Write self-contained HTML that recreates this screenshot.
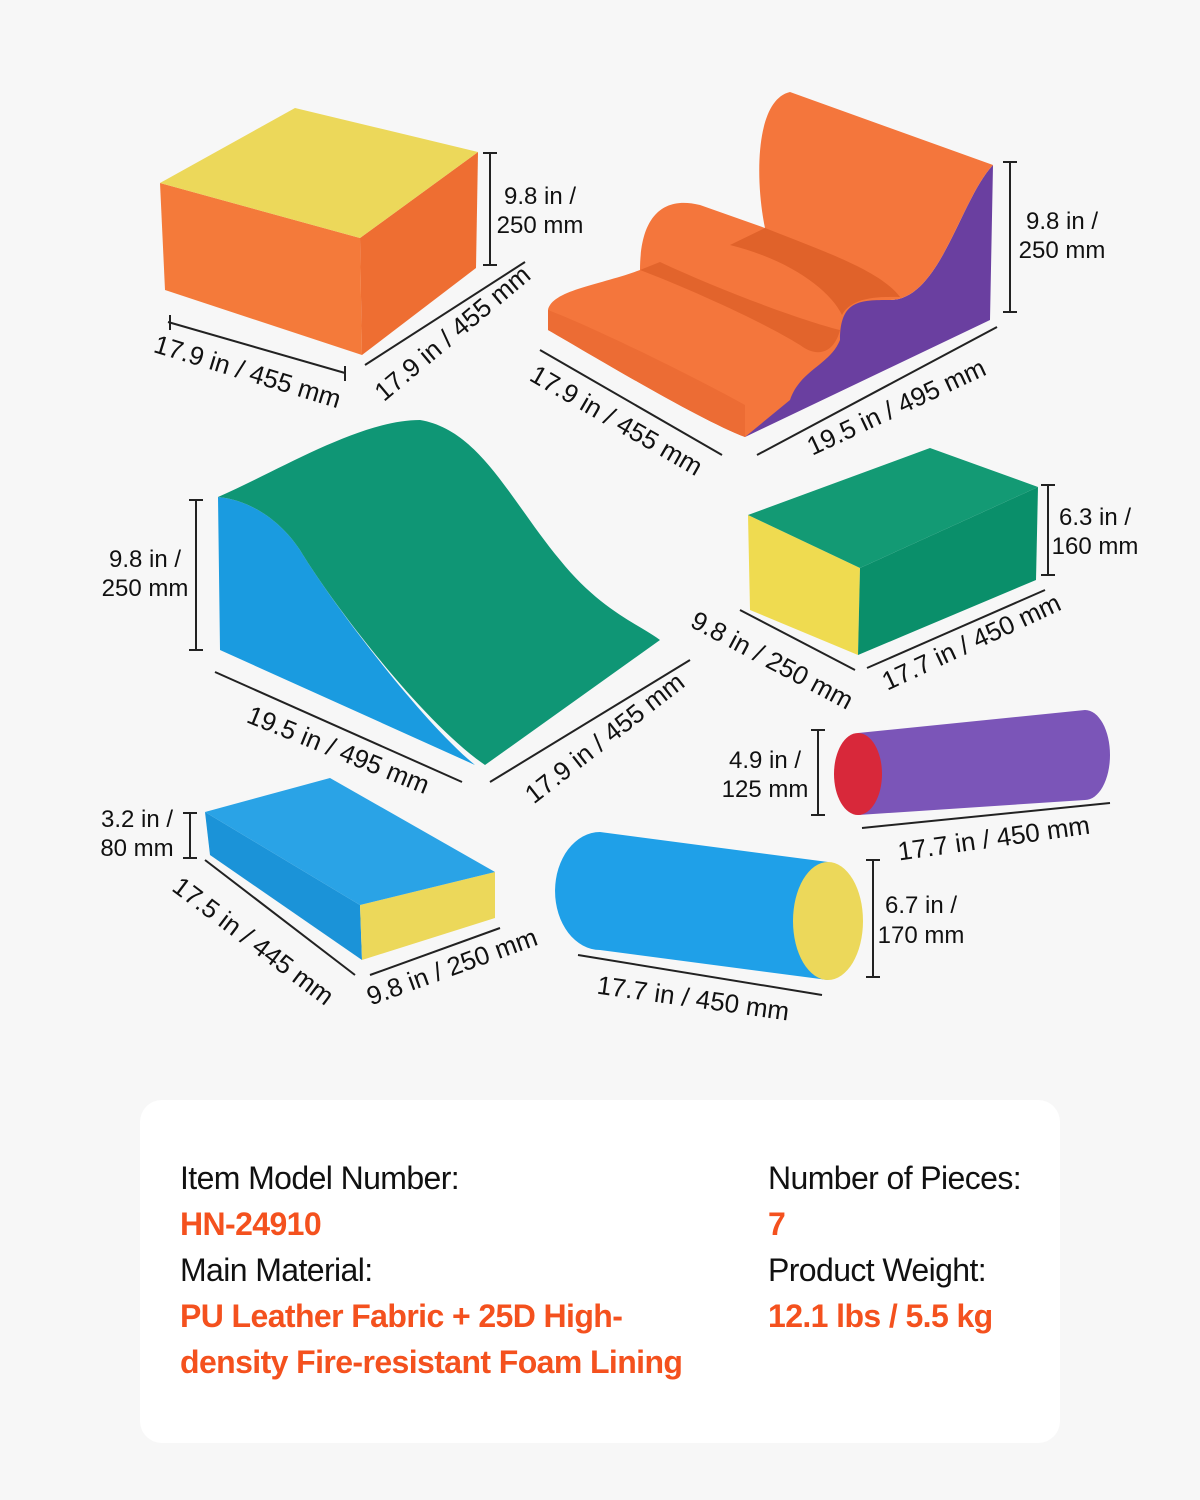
<!DOCTYPE html>
<html><head><meta charset="utf-8"><style>
html,body{margin:0;padding:0}
body{width:1200px;height:1500px;background:#f7f7f7;position:relative;overflow:hidden;font-family:"Liberation Sans",sans-serif}
svg{position:absolute;left:0;top:0}
.card{position:absolute;left:140px;top:1100px;width:920px;height:343px;background:#fff;border-radius:22px}
.t{position:absolute;font-size:32px;line-height:46px;color:#111;letter-spacing:-0.6px}
.o{color:#f4511e;font-weight:bold}
</style></head><body>
<svg width="1200" height="1500" viewBox="0 0 1200 1500" font-family="Liberation Sans, sans-serif" font-size="26" fill="#111">
<!-- cube -->
<polygon points="160,183 360,238 362,355 165,290" fill="#f47a3a"/>
<polygon points="360,238 478,152 476,268 362,355" fill="#ee6e32"/>
<polygon points="160,183 295,108 478,152 360,238" fill="#ecd85a"/>
<!-- wave block -->
<path d="M745,437 L990,320 L993,165 C960,200 940,300 890,300 C860,300 850,290 840,305 L745,360 Z" fill="#6a3fa0"/>
<path d="M548,310 C552,290 600,285 640,270 C640,220 660,195 700,205 L765,228 C755,180 755,100 790,92 L993,165 C960,200 940,300 890,300 C860,300 840,300 840,340 C830,365 800,370 790,400 L745,437 C700,420 600,360 548,330 Z" fill="#f4763c"/>
<path d="M640,270 C680,285 760,320 800,345 C820,360 835,350 840,330 C800,320 720,290 660,262 Z" fill="#e2642c"/>
<path d="M765,228 C820,250 880,270 900,297 C870,296 850,300 842,315 C830,290 790,260 730,245 Z" fill="#e0622a"/>
<path d="M548,310 C600,330 700,380 745,405 L745,437 C700,420 600,360 548,330 Z" fill="#ec6c34"/>
<!-- green wedge -->
<path d="M218,497 L220,650 L475,765 C420,720 330,600 300,550 C280,520 250,500 218,497 Z" fill="#1a9be0"/>
<path d="M218,497 C280,470 360,420 420,420 C480,430 510,500 560,560 C600,610 640,625 660,640 L485,765 C420,720 330,600 300,550 C280,520 250,500 218,497 Z" fill="#0f9675"/>
<!-- green block -->
<polygon points="748,515 860,568 858,655 750,610" fill="#efdb50"/>
<polygon points="860,568 1038,487 1036,580 858,655" fill="#0a8f6a"/>
<polygon points="748,515 930,448 1038,487 860,568" fill="#139a74"/>
<!-- purple cylinder -->
<path d="M858,733 L1085,710 A25,45 0 0 1 1085,800 L858,815 Z" fill="#7b55b8"/>
<ellipse cx="858" cy="774" rx="24" ry="41" fill="#d8283a"/>
<!-- blue block -->
<polygon points="205,812 360,905 362,960 210,855" fill="#1b93d8"/>
<polygon points="360,905 495,872 495,918 362,960" fill="#ecd85a"/>
<polygon points="205,812 330,778 495,872 360,905" fill="#2aa3e6"/>
<!-- blue cylinder -->
<path d="M600,832 L828,862 L828,980 L600,950 A45,59 0 0 1 600,832 Z" fill="#1fa0e8"/>
<ellipse cx="828" cy="921" rx="35" ry="59" fill="#ecd85a"/>
<!-- dimension lines -->
<g stroke="#222" stroke-width="2" fill="none">
<path d="M490,153 V265 M483,153 H497 M483,265 H497"/>
<path d="M1010,162 V312 M1003,162 H1017 M1003,312 H1017"/>
<path d="M196,500 V650 M189,500 H203 M189,650 H203"/>
<path d="M1048,485 V575 M1041,485 H1055 M1041,575 H1055"/>
<path d="M818,730 V815 M811,730 H825 M811,815 H825"/>
<path d="M190,813 V858 M183,813 H197 M183,858 H197"/>
<path d="M873,860 V977 M866,860 H880 M866,977 H880"/>
<path d="M168,322 L345,373 M170,315 V330 M345,366 V381"/>
<path d="M365,365 L525,262"/>
<path d="M540,350 L722,455"/>
<path d="M757,455 L997,327"/>
<path d="M215,672 L462,782"/>
<path d="M490,782 L690,660"/>
<path d="M740,610 L855,670"/>
<path d="M867,668 L1045,590"/>
<path d="M862,828 L1110,803"/>
<path d="M205,860 L355,975"/>
<path d="M370,975 L500,928"/>
<path d="M578,955 L822,995"/>
</g>
<g text-anchor="middle">
<text x="540" y="204" font-size="24">9.8 in /</text><text x="540" y="233" font-size="24">250 mm</text>
<text x="1062" y="229" font-size="24">9.8 in /</text><text x="1062" y="258" font-size="24">250 mm</text>
<text x="145" y="567" font-size="24">9.8 in /</text><text x="145" y="596" font-size="24">250 mm</text>
<text x="1095" y="525" font-size="24">6.3 in /</text><text x="1095" y="554" font-size="24">160 mm</text>
<text x="765" y="768" font-size="24">4.9 in /</text><text x="765" y="797" font-size="24">125 mm</text>
<text x="137" y="827" font-size="24">3.2 in /</text><text x="137" y="856" font-size="24">80 mm</text>
<text x="921" y="913" font-size="24">6.7 in /</text><text x="921" y="943" font-size="24">170 mm</text>
<text transform="translate(245,380) rotate(17)">17.9 in / 455 mm</text>
<text transform="translate(458,340) rotate(-40)">17.9 in / 455 mm</text>
<text transform="translate(612,428) rotate(30)">17.9 in / 455 mm</text>
<text transform="translate(900,415) rotate(-25)">19.5 in / 495 mm</text>
<text transform="translate(335,758) rotate(22)">19.5 in / 495 mm</text>
<text transform="translate(610,745) rotate(-38)">17.9 in / 455 mm</text>
<text transform="translate(768,668) rotate(28)">9.8 in / 250 mm</text>
<text transform="translate(975,650) rotate(-25)">17.7 in / 450 mm</text>
<text transform="translate(995,847) rotate(-8)">17.7 in / 450 mm</text>
<text transform="translate(248,948) rotate(37)">17.5 in / 445 mm</text>
<text transform="translate(455,975) rotate(-20)">9.8 in / 250 mm</text>
<text transform="translate(692,1007) rotate(8)">17.7 in / 450 mm</text>
</g>
</svg>
<div class="card"></div>
<div class="t" style="left:180px;top:1155px">Item Model Number:<br><span class="o">HN-24910</span><br>Main Material:<br><span class="o">PU Leather Fabric + 25D High-<br>density Fire-resistant Foam Lining</span></div>
<div class="t" style="left:768px;top:1155px">Number of Pieces:<br><span class="o">7</span><br>Product Weight:<br><span class="o">12.1 lbs / 5.5 kg</span></div>
</body></html>
